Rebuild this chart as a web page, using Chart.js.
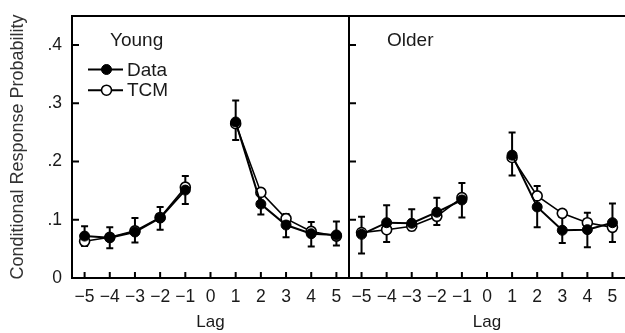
<!DOCTYPE html>
<html><head><meta charset="utf-8">
<script src="https://cdn.jsdelivr.net/npm/chart.js@4/dist/chart.umd.min.js"></script>
<style>
html,body{margin:0;padding:0;background:#fff;}
#wrap{position:relative;width:625px;height:333px;overflow:hidden;background:#fff;}
canvas{position:absolute;top:0;}
</style></head><body>
<div id="wrap">
<canvas id="c1" width="351" height="333" style="left:0px"></canvas>
<canvas id="c2" width="278" height="333" style="left:347px"></canvas>
</div>
<script>
// ---- data ----
const lags = [-5, -4, -3, -2, -1, 0, 1, 2, 3, 4, 5];
const xTickValues = [-5, -4, -3, -2, -1, 0, 1, 2, 3, 4, 5];
const yTickValues = [0, 0.1, 0.2, 0.3, 0.4];
const panelTitles = ['Young', 'Older'];
const seriesNames = ['Data', 'TCM'];
const yAxisTitle = 'Conditional Response Probability';
const xAxisTitle = 'Lag';

const youngData     = [0.072, 0.069, 0.079, 0.103, 0.151, null, 0.268, 0.127, 0.091, 0.076, 0.074];
const youngDataLow  = [0.055, 0.051, 0.061, 0.083, 0.127, null, 0.237, 0.109, 0.070, 0.054, 0.056];
const youngDataHigh = [0.089, 0.087, 0.103, 0.122, 0.175, null, 0.305, 0.145, 0.110, 0.096, 0.097];
const youngTCM      = [0.063, 0.070, 0.081, 0.104, 0.156, null, 0.265, 0.147, 0.102, 0.080, 0.072];

const olderData     = [0.075, 0.095, 0.094, 0.113, 0.134, null, 0.211, 0.122, 0.082, 0.083, 0.095];
const olderDataLow  = [0.042, 0.062, 0.082, 0.091, 0.104, null, 0.176, 0.087, 0.060, 0.053, 0.062];
const olderDataHigh = [0.105, 0.125, 0.118, 0.138, 0.163, null, 0.250, 0.158, 0.105, 0.112, 0.128];
const olderTCM      = [0.078, 0.083, 0.089, 0.106, 0.138, null, 0.207, 0.141, 0.111, 0.095, 0.087];

// ---- styling ----
const FAMILY = '"Liberation Sans", Arial, Helvetica, sans-serif';
const TEXT = '#1a1a1a';

function fmtY(v) {
  if (Math.abs(v) < 1e-9) return '0';
  return v.toFixed(1).replace(/^0/, '');
}
function fmtX(v) {
  return v < 0 ? '\u2212' + Math.abs(v) : String(v);
}

const panelPlugin = {
  id: 'panel',
  beforeDatasetsDraw(chart, args, opts) {
    const ctx = chart.ctx;
    const a = chart.chartArea;
    const xs = chart.scales.x, ys = chart.scales.y;
    ctx.save();
    ctx.strokeStyle = '#000';
    ctx.lineWidth = 2;
    ctx.lineCap = 'square';
    ctx.beginPath();
    ctx.moveTo(a.left, a.bottom); ctx.lineTo(a.left, a.top);
    ctx.moveTo(a.left, a.top); ctx.lineTo(opts.rightBorder ? a.right : a.right + 2, a.top);
    ctx.moveTo(a.left, a.bottom); ctx.lineTo(opts.rightBorder ? a.right : a.right + 2, a.bottom);
    if (opts.rightBorder) { ctx.moveTo(a.right, a.top); ctx.lineTo(a.right, a.bottom); }
    ctx.stroke();
    // inward ticks
    ctx.lineCap = 'butt';
    ctx.beginPath();
    xTickValues.forEach(v => {
      const px = xs.getPixelForValue(v);
      ctx.moveTo(px, a.bottom); ctx.lineTo(px, a.bottom - 6);
    });
    yTickValues.forEach(v => {
      if (v === 0) return;
      const py = ys.getPixelForValue(v);
      ctx.moveTo(a.left, py); ctx.lineTo(a.left + 7, py);
    });
    ctx.stroke();

    // error bars for the Data series
    chart.data.datasets.forEach(ds => {
      if (!ds.errLow) return;
      ctx.strokeStyle = '#000';
      ctx.lineWidth = 2;
      ctx.beginPath();
      lags.forEach((l, i) => {
        const lo = ds.errLow[i], hi = ds.errHigh[i];
        if (lo == null || hi == null) return;
        const px = xs.getPixelForValue(l);
        const pl = ys.getPixelForValue(lo), ph = ys.getPixelForValue(hi);
        ctx.moveTo(px, pl); ctx.lineTo(px, ph);
        ctx.moveTo(px - 3.5, pl); ctx.lineTo(px + 3.5, pl);
        ctx.moveTo(px - 3.5, ph); ctx.lineTo(px + 3.5, ph);
      });
      ctx.stroke();
    });

    // panel title
    ctx.fillStyle = TEXT;
    ctx.font = '19px ' + FAMILY;
    ctx.textBaseline = 'alphabetic';
    ctx.textAlign = 'left';
    ctx.fillText(opts.title, a.left + 38, a.top + 30);

    // legend
    if (opts.legend) {
      chart.data.datasets.forEach((ds, i) => {
        const y = a.top + 53.5 + i * 20.7;
        const x0 = a.left + 16, x1 = a.left + 51, xm = a.left + 34.5;
        ctx.strokeStyle = ds.borderColor;
        ctx.lineWidth = 2;
        ctx.beginPath(); ctx.moveTo(x0, y); ctx.lineTo(x1, y); ctx.stroke();
        ctx.beginPath(); ctx.arc(xm, y, 5, 0, Math.PI * 2);
        ctx.fillStyle = ds.pointBackgroundColor; ctx.fill();
        ctx.lineWidth = ds.pointBorderWidth; ctx.strokeStyle = ds.pointBorderColor; ctx.stroke();
        ctx.fillStyle = TEXT;
        ctx.font = '19px ' + FAMILY;
        ctx.textBaseline = 'middle';
        ctx.fillText(ds.label, a.left + 55, y + 1);
      });
    }
    ctx.restore();
  }
};

function makeChart(id, dataVals, low, high, tcmVals, panelOpts, showY, padding) {
  return new Chart(document.getElementById(id), {
    type: 'line',
    data: {
      datasets: [
        {
          label: seriesNames[0],
          data: lags.map((x, i) => ({ x: x, y: dataVals[i] })),
          errLow: low, errHigh: high,
          borderColor: '#000', borderWidth: 2,
          pointRadius: 5, pointBackgroundColor: '#000', pointBorderColor: '#000', pointBorderWidth: 1,
          tension: 0, spanGaps: false
        },
        {
          label: seriesNames[1],
          data: lags.map((x, i) => ({ x: x, y: tcmVals[i] })),
          borderColor: '#000', borderWidth: 1.6,
          pointRadius: 5, pointBackgroundColor: '#fff', pointBorderColor: '#000', pointBorderWidth: 1.6,
          tension: 0, spanGaps: false
        }
      ]
    },
    options: {
      responsive: false, animation: false, devicePixelRatio: 1,
      layout: { padding: padding, autoPadding: false },
      plugins: { legend: { display: false }, tooltip: { enabled: false }, panel: panelOpts },
      scales: {
        x: {
          type: 'linear', min: -5.5, max: 5.5,
          afterBuildTicks: s => { s.ticks = xTickValues.map(v => ({ value: v })); },
          afterFit: s => { s.height = 55; s.paddingLeft = 0; s.paddingRight = 0; },
          grid: { display: false, drawTicks: false, tickLength: 0 },
          border: { display: false },
          ticks: { autoSkip: false, maxRotation: 0, padding: 9, color: TEXT,
                   font: { family: FAMILY, size: 17.5 }, callback: v => fmtX(v) },
          title: { display: true, text: xAxisTitle, color: TEXT,
                   font: { family: FAMILY, size: 17 }, padding: { top: 0, bottom: 0 } }
        },
        y: {
          display: showY,
          min: 0, max: 0.45,
          afterBuildTicks: s => { s.ticks = yTickValues.map(v => ({ value: v })); },
          afterFit: s => { s.width = showY ? 72 : 0; s.paddingTop = 0; s.paddingBottom = 0; },
          grid: { display: false, drawTicks: false, tickLength: 0 },
          border: { display: false },
          ticks: { padding: 10, color: TEXT, font: { family: FAMILY, size: 17.5 }, callback: v => fmtY(v) },
          title: { display: true, text: yAxisTitle, color: '#333',
                   font: { family: FAMILY, size: 18 }, padding: { top: 7, bottom: 0 } }
        }
      }
    },
    plugins: [panelPlugin]
  });
}

makeChart('c1', youngData, youngDataLow, youngDataHigh, youngTCM,
  { title: panelTitles[0], legend: true, rightBorder: true }, true,
  { top: 16, right: 2, left: 0, bottom: 0 });
makeChart('c2', olderData, olderDataLow, olderDataHigh, olderTCM,
  { title: panelTitles[1], legend: false, rightBorder: false }, false,
  { top: 16, right: 0, left: 2, bottom: 0 });
</script>
</body></html>
